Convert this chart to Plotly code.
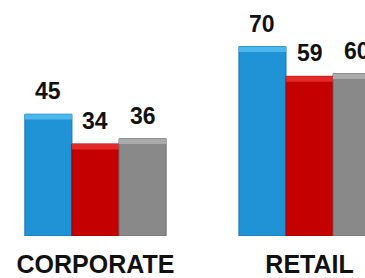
import plotly.graph_objects as go

categories = ["CORPORATE", "RETAIL"]
series_names = ["A", "B", "C"]
values_a = [45, 70]
values_b = [34, 59]
values_c = [36, 60]

series_values = [values_a, values_b, values_c]
colors = ["#1F93D6", "#C40000", "#898989"]
edge_colors = ["#1677B4", "#9A0000", "#6E6E6E"]
top_colors = ["#4DB6EC", "#E22A2A", "#ABABAB"]

bargap = 0.34
n = len(series_values)
w = (1 - bargap) / n
hl = 2.0  # highlight band height in data units

fig = go.Figure()
for i, (name, vals) in enumerate(zip(series_names, series_values)):
    fig.add_trace(go.Bar(
        x=categories, y=vals, name=name, offsetgroup=str(i),
        marker=dict(color=colors[i], line=dict(color=edge_colors[i], width=1)),
        hoverinfo="skip",
    ))
    fig.add_trace(go.Bar(
        x=categories, y=[hl] * len(vals), base=[v - hl for v in vals],
        offsetgroup=str(i), marker=dict(color=top_colors[i], line=dict(width=0)),
        hoverinfo="skip", showlegend=False,
    ))

for i, vals in enumerate(series_values):
    for c, v in enumerate(vals):
        fig.add_annotation(
            x=c + (i - (n - 1) / 2) * w, y=v, xref="x", yref="y",
            text=f"<b>{v}</b>", showarrow=False, yshift=23,
            font=dict(family="Liberation Sans, Arial, sans-serif", size=23, color="#111111"),
        )

fig.update_layout(
    width=365, height=278,
    margin=dict(l=0, r=0, t=0, b=40),
    paper_bgcolor="white", plot_bgcolor="white",
    barmode="group", bargap=bargap, bargroupgap=0,
    showlegend=False,
    xaxis=dict(
        range=[-0.446, 1.259], showgrid=False, zeroline=False, showline=False,
        ticks="", ticklabelstandoff=11,
        tickfont=dict(family="Liberation Sans, Arial, sans-serif", size=25, color="#111111"),
        tickvals=categories, ticktext=[f"<b>{c}</b>" for c in categories],
    ),
    yaxis=dict(range=[0, 87.2], visible=False),
)

fig.write_html(
    "out.html",
    config={"displayModeBar": False},
    post_script="document.body.style.margin='0';document.body.style.overflow='hidden';",
)
